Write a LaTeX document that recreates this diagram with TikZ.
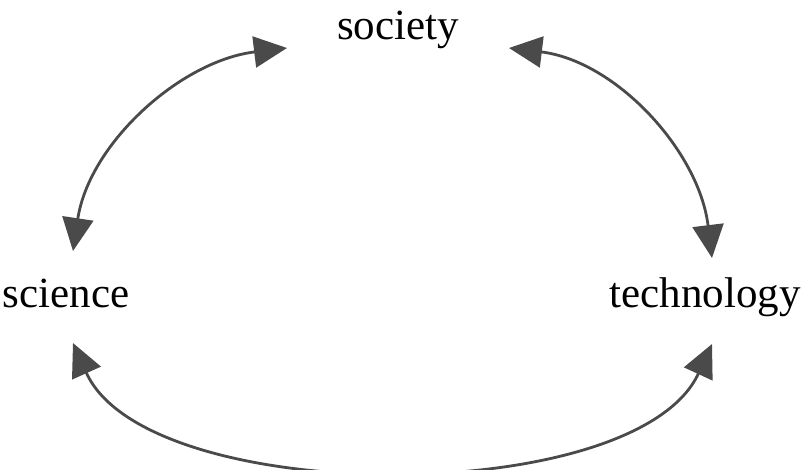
\documentclass[tikz,border=0pt]{standalone}
\usepackage{fontspec}
\setmainfont{Liberation Serif}
\usetikzlibrary{arrows.meta}
\definecolor{arrowgray}{HTML}{4A4A4A}
\tikzset{
  label/.style={font=\fontsize{43}{50}\selectfont, text=black, inner sep=0pt, anchor=base},
  link/.style={draw=arrowgray, line width=2.8pt,
    {Triangle[length=33pt,width=31pt]}-{Triangle[length=33pt,width=31pt]}}
}
\begin{document}
\begin{tikzpicture}[x=1pt,y=-1pt]
\useasboundingbox (0,0) rectangle (810,470);
\node[label] (society) at (398,40) {society};
\node[label] (science) at (66,307) {science};
\node[label] (technology) at (705,307) {technology};
% arrow tip points
\coordinate (sciTop) at (73,251);
\coordinate (socLeft) at (287,48);
\coordinate (socRight) at (509,48);
\coordinate (tecTop) at (712,258);
\coordinate (sciBot) at (73,343);
\coordinate (tecBot) at (712,344);
\draw[link] (sciTop) .. controls (89,144) and (180,61) .. (socLeft);
\draw[link] (socRight) .. controls (616,61) and (699,151) .. (tecTop);
\draw[link] (sciBot) .. controls (147,508) and (636,509) .. (tecBot);
\end{tikzpicture}
\end{document}
